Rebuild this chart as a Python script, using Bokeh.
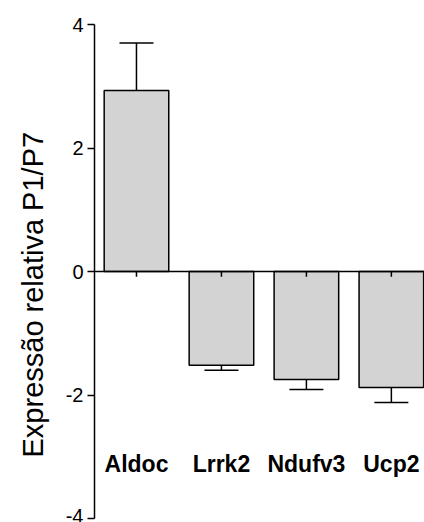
from bokeh.plotting import figure
from bokeh.models import Range1d, Span, ColumnDataSource, Title
from bokeh.core.properties import value
from bokeh.embed import file_html
from bokeh.resources import INLINE

genes = ["Aldoc", "Lrrk2", "Ndufv3", "Ucp2"]
expr = [2.93, -1.52, -1.75, -1.88]
err = [0.77, 0.08, 0.16, 0.24]
y_ticks = [-4, -2, 0, 2, 4]
y_tick_labels = {-4: "-4", -2: "-2", 0: "0", 2: "2", 4: "4"}
y_title = "Expressão relativa P1/P7"

xs = list(range(len(genes)))
ends = [v + (e if v >= 0 else -e) for v, e in zip(expr, err)]

p = figure(width=424, height=522, x_range=Range1d(-0.494, 3.39), y_range=Range1d(-4, 4),
           output_backend="svg", toolbar_location=None, x_axis_location=None,
           min_border_left=94, min_border_right=0, min_border_top=24, min_border_bottom=4)
p.grid.visible = False
p.outline_line_color = None
p.background_fill_color = "white"
p.border_fill_color = "white"

src = ColumnDataSource(dict(x=xs, top=expr, end=ends, genes=genes))
p.vbar(x="x", top="top", bottom=0, width=0.76, source=src,
       fill_color="#d3d3d3", line_color="black", line_width=1.5)

# error bars
p.segment(x0="x", y0="top", x1="x", y1="end", source=src, line_color="black", line_width=1.5)
cap = 0.2
p.segment(x0=[x - cap for x in xs], y0=ends, x1=[x + cap for x in xs], y1=ends,
          line_color="black", line_width=1.5)

# zero axis line with ticks
p.add_layout(Span(location=0, dimension="width", line_color="black", line_width=1.5))
p.segment(x0=xs, y0=[0] * len(xs), x1=xs, y1=[-0.085] * len(xs), line_color="black", line_width=1.5)

# category labels
p.text(x="x", y=-3.11, text="genes", source=src, text_align="center", text_baseline="alphabetic",
       text_font=value("Liberation Sans"), text_font_style="bold", text_font_size="23px",
       text_color="black")

ax = p.yaxis[0]
ax.ticker = y_ticks
ax.major_label_overrides = y_tick_labels
ax.major_tick_out = 7
ax.major_tick_in = 0
ax.minor_tick_line_color = None
ax.axis_line_width = 1.5
ax.major_tick_line_width = 1.5
ax.major_label_text_font = "Liberation Sans"
ax.major_label_text_font_size = "20px"
ax.major_label_text_color = "black"
ax.major_label_standoff = 4

# y title in the left panel
p.add_layout(Title(text=y_title, align="left", offset=61, standoff=28,
                   text_font="Liberation Sans", text_font_size="29px",
                   text_font_style="normal", text_color="black"), "left")

open("out.html", "w").write(file_html(p, INLINE))
